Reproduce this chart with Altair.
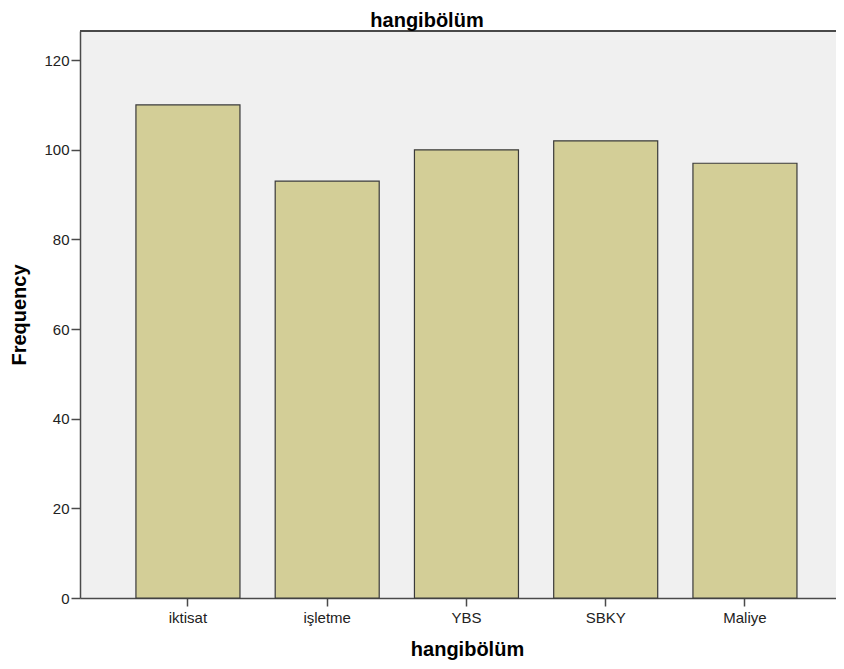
import altair as alt
import pandas as pd

categories = ["iktisat", "işletme", "YBS", "SBKY", "Maliye"]
frequencies = [110, 93, 100, 102, 97]
y_ticks = [0, 20, 40, 60, 80, 100, 120]

df = pd.DataFrame({"hangibolum": categories, "Frequency": frequencies})

FONT = "Liberation Sans"
W, H = 756, 567

bars = alt.Chart(df).mark_bar(
    fill="#D3CE97", stroke="#3A3A3A", strokeWidth=1.2
).encode(
    x=alt.X(
        "hangibolum:N",
        sort=categories,
        scale=alt.Scale(paddingInner=0.253, paddingOuter=0.341, align=0.589),
        axis=alt.Axis(
            title="hangibölüm",
            labelAngle=0,
            labelFont=FONT,
            labelFontSize=15,
            labelColor="#222222",
            labelPadding=4,
            tickSize=8,
            tickColor="#4A4A4A",
            tickWidth=1.5,
            domainColor="#4A4A4A",
            domainWidth=1.5,
            titleFont=FONT,
            titleFontSize=20,
            titleFontWeight="bold",
            titleColor="#000000",
            titleBaseline="alphabetic",
            titleX=387,
            titleY=57,
        ),
    ),
    y=alt.Y(
        "Frequency:Q",
        scale=alt.Scale(domain=[0, 126.5], nice=False),
        axis=alt.Axis(
            title="Frequency",
            values=y_ticks,
            grid=False,
            labelFont=FONT,
            labelFontSize=15,
            labelColor="#222222",
            labelPadding=2,
            tickSize=9,
            tickColor="#4A4A4A",
            tickWidth=1.5,
            domainColor="#4A4A4A",
            domainWidth=1.5,
            titleFont=FONT,
            titleFontSize=20,
            titleFontWeight="bold",
            titleColor="#000000",
            titleBaseline="alphabetic",
            titleX=-55,
        ),
    ),
)

top_border = alt.Chart(df).mark_rule(color="#4A4A4A", strokeWidth=1.5).encode(
    x=alt.value(0), x2=alt.value(W), y=alt.value(0)
)

chart = alt.layer(bars, top_border).properties(
    width=W,
    height=H,
    background="#FFFFFF",
    title=alt.TitleParams(
        text="hangibölüm",
        font=FONT,
        fontSize=20,
        fontWeight="bold",
        color="#000000",
        anchor="middle",
        baseline="alphabetic",
        offset=2,
        dx=-31,
        dy=19,
    ),
    padding={"left": 72, "top": 23, "right": 0, "bottom": 62},
    autosize=alt.AutoSizeParams(type="none"),
).configure_view(
    fill="#F0F0F0", strokeOpacity=0, strokeWidth=0
)

chart.save("out.html", embed_options={"renderer": "svg", "actions": False})
